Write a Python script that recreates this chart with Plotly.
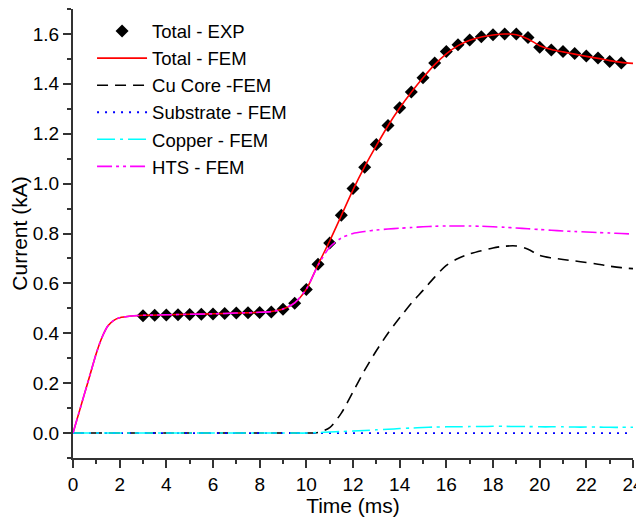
import plotly.graph_objects as go

# Experimental data (Total - EXP)
t_exp = [3, 3.5, 4, 4.5, 5, 5.5, 6, 6.5, 7, 7.5, 8, 8.5, 9, 9.5, 10, 10.5, 11, 11.5,
         12, 12.5, 13, 13.5, 14, 14.5, 15, 15.5, 16, 16.5, 17, 17.5, 18, 18.5, 19,
         19.5, 20, 20.5, 21, 21.5, 22, 22.5, 23, 23.5]
i_exp = [0.470, 0.472, 0.473, 0.474, 0.475, 0.476, 0.477, 0.479, 0.481, 0.482, 0.483, 0.485,
         0.496, 0.520, 0.576, 0.677, 0.762, 0.873, 0.980, 1.066, 1.157, 1.233, 1.304, 1.367,
         1.424, 1.484, 1.530, 1.557, 1.576, 1.589, 1.597, 1.600, 1.600, 1.586, 1.547, 1.536,
         1.530, 1.522, 1.512, 1.504, 1.490, 1.484]

# FEM simulation time base
t_fem = [0, 0.25, 0.5, 0.75, 1, 1.25, 1.5, 1.75, 2, 2.5, 3, 4, 5, 6, 7, 8, 8.5, 9, 9.5,
         10, 10.5, 11, 11.5, 12, 12.5, 13, 13.5, 14, 14.5, 15, 15.5, 16, 16.5, 17, 17.5,
         18, 18.5, 19, 19.5, 20, 20.5, 21, 21.5, 22, 22.5, 23, 23.5, 24]

total_fem = [0, 0.08, 0.16, 0.24, 0.32, 0.385, 0.43, 0.452, 0.462, 0.469, 0.472, 0.474,
             0.476, 0.478, 0.481, 0.484, 0.487, 0.497, 0.522, 0.577, 0.675, 0.770, 0.872,
             0.975, 1.068, 1.152, 1.232, 1.303, 1.366, 1.424, 1.477, 1.520, 1.553, 1.575,
             1.588, 1.596, 1.600, 1.597, 1.580, 1.553, 1.538, 1.528, 1.519, 1.510, 1.502,
             1.493, 1.486, 1.482]

cu_core_fem = [0, 0, 0, 0, 0, 0, 0, 0, 0, 0, 0, 0, 0, 0, 0, 0, 0, 0, 0, 0, 0.002, 0.022,
               0.080, 0.165, 0.252, 0.330, 0.400, 0.462, 0.520, 0.572, 0.625, 0.672, 0.700,
               0.718, 0.731, 0.742, 0.749, 0.750, 0.737, 0.712, 0.702, 0.696, 0.690, 0.684,
               0.677, 0.669, 0.663, 0.659]

substrate_fem = [0] * 48

copper_fem = [0, 0, 0, 0, 0, 0, 0, 0, 0, 0, 0, 0, 0, 0, 0, 0, 0, 0, 0, 0, 0.002, 0.004,
              0.006, 0.008, 0.010, 0.013, 0.015, 0.018, 0.020, 0.022, 0.024, 0.025, 0.025,
              0.026, 0.026, 0.027, 0.027, 0.026, 0.026, 0.025, 0.025, 0.025, 0.024, 0.024,
              0.024, 0.023, 0.023, 0.023]

hts_fem = [0, 0.08, 0.16, 0.24, 0.32, 0.385, 0.43, 0.452, 0.462, 0.469, 0.472, 0.474,
           0.476, 0.478, 0.481, 0.484, 0.487, 0.497, 0.522, 0.577, 0.672, 0.745, 0.782,
           0.800, 0.808, 0.814, 0.818, 0.821, 0.824, 0.827, 0.829, 0.830, 0.830, 0.830,
           0.829, 0.827, 0.825, 0.822, 0.819, 0.816, 0.813, 0.810, 0.808, 0.806, 0.804,
           0.802, 0.800, 0.798]

FONT = "Liberation Sans, Arial, sans-serif"

fig = go.Figure()
fig.add_trace(go.Scatter(x=t_exp, y=i_exp, mode="markers", name="Total - EXP",
                         marker=dict(symbol="diamond", size=10, color="black")))
fig.add_trace(go.Scatter(x=t_fem, y=total_fem, mode="lines", name="Total - FEM",
                         line=dict(color="#ff0000", width=1.6, shape="spline", smoothing=0.8)))
fig.add_trace(go.Scatter(x=t_fem, y=cu_core_fem, mode="lines", name="Cu Core -FEM",
                         line=dict(color="black", width=1.6, dash="11px,7px", shape="spline", smoothing=0.8)))
fig.add_trace(go.Scatter(x=t_fem, y=substrate_fem, mode="lines", name="Substrate - FEM",
                         line=dict(color="#0000ff", width=1.8, dash="2px,6px")))
fig.add_trace(go.Scatter(x=t_fem, y=copper_fem, mode="lines", name="Copper - FEM",
                         line=dict(color="#00ffff", width=1.6, dash="18px,5px,3px,5px", shape="spline", smoothing=0.8)))
fig.add_trace(go.Scatter(x=t_fem, y=hts_fem, mode="lines", name="HTS - FEM",
                         line=dict(color="#ff00ff", width=1.6, dash="15px,4px,3px,4px,3px,4px", shape="spline", smoothing=0.8)))

axis_common = dict(
    showgrid=False, zeroline=False, showline=True, linecolor="#333333", linewidth=2,
    ticks="outside", ticklen=8, tickwidth=2, tickcolor="#333333",
    tickfont=dict(family=FONT, size=19, color="black"),
    mirror=False, automargin=False,
)

# The page body has an 8px margin, so the figure is sized to fit the window from (8, 8).
fig.update_layout(
    width=636, height=509,
    margin=dict(l=65, r=11, t=1, b=59),
    paper_bgcolor="white", plot_bgcolor="white",
    font=dict(family=FONT, color="black"),
    showlegend=True,
    legend=dict(x=0.034, y=0.992, xanchor="left", yanchor="top",
                bgcolor="rgba(0,0,0,0)", font=dict(family=FONT, size=18.5, color="black"),
                itemwidth=50, tracegroupgap=0),
    xaxis=dict(range=[0, 24], dtick=2, tick0=0,
               title=dict(text="Time (ms)", font=dict(family=FONT, size=21, color="black"), standoff=10),
               minor=dict(dtick=1, ticklen=4, tickwidth=2, tickcolor="#333333", ticks="outside"),
               **axis_common),
    yaxis=dict(range=[-0.1, 1.7], dtick=0.2, tick0=0, tickformat=".1f",
               title=dict(text="Current (kA)", font=dict(family=FONT, size=21, color="black"), standoff=4),
               minor=dict(dtick=0.1, ticklen=4, tickwidth=2, tickcolor="#333333", ticks="outside"),
               **axis_common),
)

fig.write_html("out.html")
